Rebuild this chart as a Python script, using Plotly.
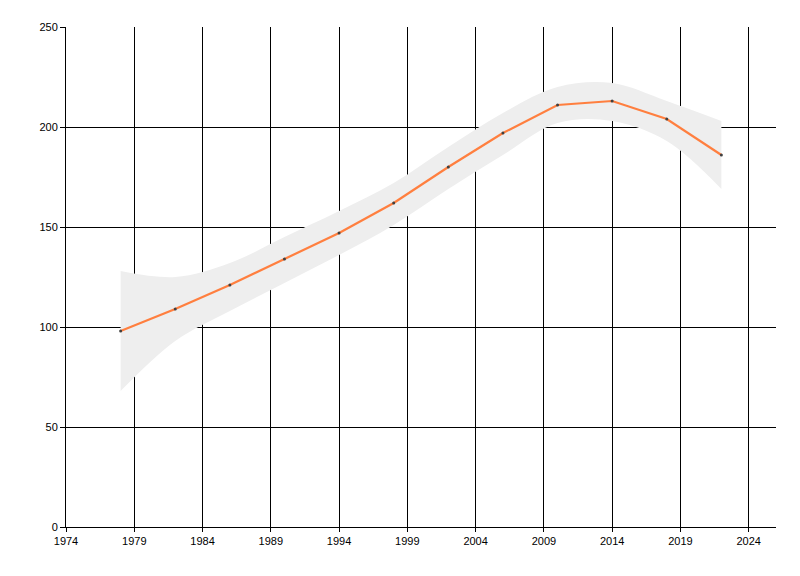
import plotly.graph_objects as go

years = [1978, 1982, 1986, 1990, 1994, 1998, 2002, 2006, 2010, 2014, 2018, 2022]
values = [98, 109, 121, 134, 147, 162, 180, 197, 211, 213, 204, 186]
band_upper = [128, 125, 132, 145, 158, 172, 190, 207, 220, 222, 213, 203]
band_lower = [68, 93, 108, 122, 136, 151, 169, 186, 202, 203, 193, 169]

fig = go.Figure()

# confidence band: lower edge, then upper edge filled down to it
fig.add_trace(go.Scatter(
    x=years, y=band_lower, mode="lines",
    line={"width": 0, "shape": "spline", "smoothing": 1.0, "color": "#eeeeee"},
    hoverinfo="skip", showlegend=False,
))
fig.add_trace(go.Scatter(
    x=years, y=band_upper, mode="lines", fill="tonexty", fillcolor="#eeeeee",
    line={"width": 0, "shape": "spline", "smoothing": 1.0, "color": "#eeeeee"},
    hoverinfo="skip", showlegend=False,
))
fig.add_trace(go.Scatter(
    x=years, y=values, mode="lines+markers",
    line={"color": "#ff7f3f", "width": 2.2},
    marker={"color": "#404040", "size": 3},
    showlegend=False,
))

axis_font = {"family": "Liberation Sans, Arial, sans-serif", "size": 11, "color": "#000000"}

fig.update_xaxes(
    range=[1974, 2026], tick0=1974, dtick=5, showgrid=True, gridcolor="#000000", gridwidth=1,
    showline=True, linecolor="#000000", linewidth=1, ticks="outside", ticklen=4, tickcolor="#000000",
    zeroline=False, tickfont=axis_font,
)
fig.update_yaxes(
    range=[0, 250], dtick=50, showgrid=True, gridcolor="#000000", gridwidth=1,
    showline=True, linecolor="#000000", linewidth=1, ticks="outside", ticklen=5, tickcolor="#000000",
    zeroline=False, tickfont=axis_font,
)
# the page puts the figure 8px in from the corner
fig.update_layout(
    width=800, height=576,
    margin={"l": 58, "r": 32, "t": 19, "b": 57},
    paper_bgcolor="#ffffff", plot_bgcolor="#ffffff",
    showlegend=False,
)

fig.write_html("out.html")
